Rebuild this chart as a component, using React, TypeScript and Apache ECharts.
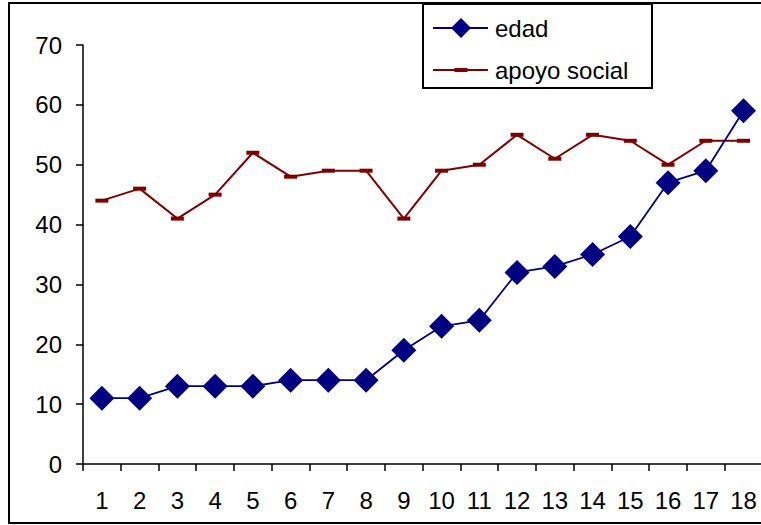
import React, { useEffect, useRef } from "react";
import * as echarts from "echarts";

const categories = ["1","2","3","4","5","6","7","8","9","10","11","12","13","14","15","16","17","18"];
const edad = [11, 11, 13, 13, 13, 14, 14, 14, 19, 23, 24, 32, 33, 35, 38, 47, 49, 59];
const apoyoSocial = [44, 46, 41, 45, 52, 48, 49, 49, 41, 49, 50, 55, 51, 55, 54, 50, 54, 54];
const seriesNames = ["edad", "apoyo social"];

const FONT = "Liberation Sans, Arial, sans-serif";
const NAVY = "#000080";
const MAROON = "#800000";

export default function App() {
  const ref = useRef<HTMLDivElement>(null);

  useEffect(() => {
    if (!ref.current) return;
    const chart = echarts.init(ref.current, undefined, { renderer: "svg" });

    // Hand-built legend box: line + marker samples and labels
    const legendGraphic = {
      type: "group",
      left: 422,
      top: 3,
      children: [
        {
          type: "rect",
          shape: { x: 0, y: 0, width: 229, height: 84 },
          style: { fill: "#ffffff", stroke: "#000000", lineWidth: 2 },
        },
        {
          type: "line",
          shape: { x1: 10, y1: 24, x2: 65, y2: 24 },
          style: { stroke: NAVY, lineWidth: 1.8 },
        },
        {
          type: "polygon",
          shape: { points: [[38, 14], [48, 24], [38, 34], [28, 24]] },
          style: { fill: NAVY },
        },
        {
          type: "text",
          x: 72,
          y: 24,
          style: { text: seriesNames[0], fontSize: 24, fontFamily: FONT, fill: "#000000", verticalAlign: "middle" },
        },
        {
          type: "line",
          shape: { x1: 10, y1: 66, x2: 65, y2: 66 },
          style: { stroke: MAROON, lineWidth: 2 },
        },
        {
          type: "rect",
          shape: { x: 31.5, y: 64, width: 13, height: 4 },
          style: { fill: MAROON },
        },
        {
          type: "text",
          x: 72,
          y: 66,
          style: { text: seriesNames[1], fontSize: 24, fontFamily: FONT, fill: "#000000", verticalAlign: "middle" },
        },
      ],
    };

    chart.setOption({
      animation: false,
      backgroundColor: "#ffffff",
      textStyle: { fontFamily: FONT },
      grid: { left: 83, right: 17.6, top: 45, bottom: 61 },
      xAxis: {
        type: "category",
        data: categories,
        boundaryGap: true,
        axisLine: { lineStyle: { color: "#000000", width: 1.5 } },
        axisTick: { show: true, length: 7, lineStyle: { color: "#000000", width: 1.5 } },
        axisLabel: { fontSize: 24, color: "#000000", margin: 24, fontFamily: FONT, interval: 0 },
        splitLine: { show: false },
      },
      yAxis: {
        type: "value",
        min: 0,
        max: 70,
        interval: 10,
        axisLine: { show: true, lineStyle: { color: "#000000", width: 1.5 } },
        axisTick: { show: true, length: 7, lineStyle: { color: "#000000", width: 1.5 } },
        axisLabel: { fontSize: 24, color: "#000000", margin: 21, fontFamily: FONT },
        splitLine: { show: false },
      },
      graphic: [
        legendGraphic,
        {
          type: "rect",
          shape: { x: 9, y: 3, width: 761, height: 520 },
          style: { fill: "none", stroke: "#000000", lineWidth: 2 },
          z: 100,
          silent: true,
        },
      ],
      series: [
        {
          name: seriesNames[0],
          type: "line",
          data: edad,
          symbol: "diamond",
          symbolSize: 25,
          lineStyle: { color: NAVY, width: 1.8 },
          itemStyle: { color: NAVY },
          z: 3,
        },
        {
          name: seriesNames[1],
          type: "line",
          data: apoyoSocial,
          symbol: "rect",
          symbolSize: [13, 4],
          lineStyle: { color: MAROON, width: 2 },
          itemStyle: { color: MAROON },
          z: 2,
        },
      ],
    });
    return () => chart.dispose();
  }, []);

  return (
    <div style={{ position: "fixed", left: 0, top: 0, width: 761, height: 525, overflow: "hidden", background: "#fff" }}>
      <div ref={ref} style={{ width: 780, height: 525 }} />
    </div>
  );
}
